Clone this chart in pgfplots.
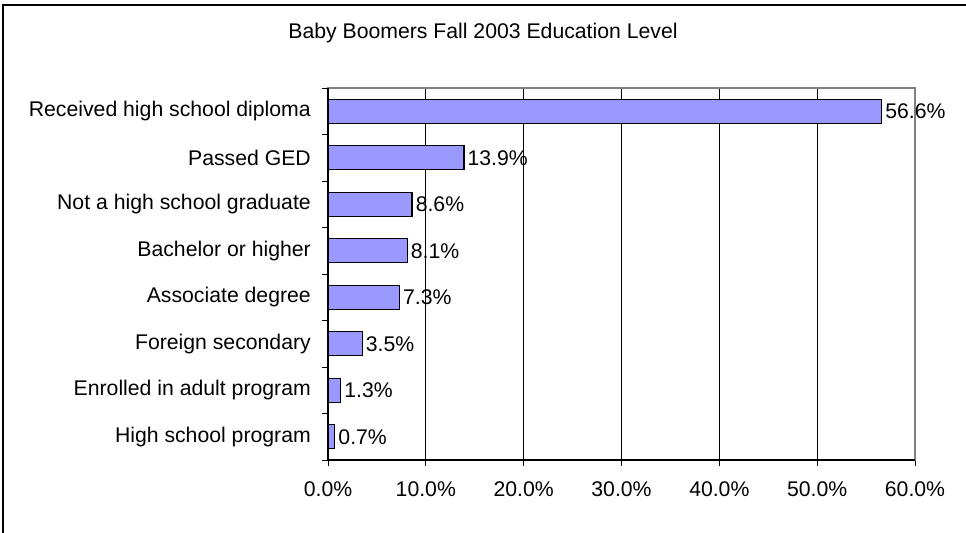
\documentclass[border=0pt]{standalone}
\usepackage{pgfplots}
\pgfplotsset{compat=1.18}
\usepackage{fontspec}
\setmainfont{Liberation Sans}
\definecolor{barfill}{HTML}{9999FF}
\begin{document}
\begin{tikzpicture}
\path[use as bounding box] (0,0) rectangle (966bp,533bp);
\draw[black, line width=2.2bp] (3bp,-20bp) -- (3bp,528bp) -- (990bp,528bp);
\node[font=\fontsize{21.3}{25}\selectfont] at (483bp,500bp) {Baby Boomers Fall 2003 Education Level};
\begin{axis}[
  at={(328bp,73bp)}, anchor=south west,
  scale only axis, width=587bp, height=372bp,
  xbar, bar width=24bp,
  xmin=0, xmax=60, ymin=-0.5, ymax=7.5,
  xtick={0,10,...,60},
  xticklabel={\pgfmathprintnumber[fixed,fixed zerofill,precision=1]{\tick}\%},
  ytick={-0.5,0.5,1.5,2.5,3.5,4.5,5.5,6.5,7.5},
  yticklabels={},
  extra y ticks={0,...,7},
  extra y tick labels={High school program, Enrolled in adult program, Foreign secondary, Associate degree, Bachelor or higher, Not a high school graduate, Passed GED, Received high school diploma},
  extra y tick style={major tick length=0pt, ymajorgrids=false,
     yticklabel style={inner sep=0pt, xshift=-17bp}},
  tick style={draw=black, line width=1bp},
  major tick length=6bp, tick align=outside,
  xtick pos=bottom, ytick pos=left,
  xmajorgrids, grid style={black, line width=0.8bp},
  axis line style={draw=gray, line width=1.2bp},
  tick label style={font=\fontsize{21.3}{25}\selectfont},
  /pgf/number format/assume math mode=true,
  xticklabel style={inner sep=0pt, yshift=-15bp},
  nodes near coords={\pgfmathprintnumber[fixed,fixed zerofill,precision=1]{\pgfplotspointmeta}\%},
  nodes near coords align={horizontal},
  every node near coord/.append style={font=\fontsize{21.3}{25}\selectfont, anchor=west, inner sep=0pt, xshift=3bp, black},
  clip=false,
]
\addplot[fill=barfill, draw=black, line width=1.3bp] coordinates {
  (0.7,0) (1.3,1) (3.5,2) (7.3,3) (8.1,4) (8.6,5) (13.9,6) (56.6,7)
};
\draw[black, line width=1.5bp] (axis cs:0,7.5) -- (axis cs:0,-0.5) -- (axis cs:60,-0.5);
\end{axis}
\end{tikzpicture}
\end{document}
